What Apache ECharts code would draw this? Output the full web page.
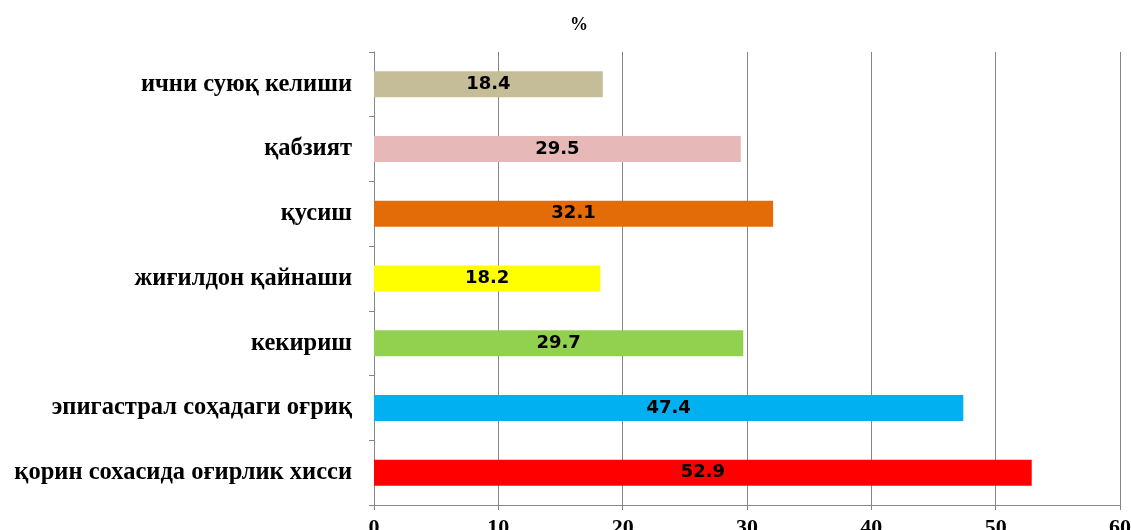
<!DOCTYPE html>
<html>
<head>
<meta charset="utf-8">
<script src="https://cdn.jsdelivr.net/npm/echarts@6/dist/echarts.min.js"></script>
<style>
html,body{margin:0;padding:0;background:#fff;}
#main{width:1131px;height:530px;}
</style>
</head>
<body>
<div id="main"></div>
<script>
// categories listed bottom -> top, as the category axis draws them
var categories = ['қорин сохасида оғирлик хисси', 'эпигастрал соҳадаги оғриқ', 'кекириш', 'жиғилдон қайнаши', 'қусиш', 'қабзият', 'ични суюқ келиши'];
var values = [52.9, 47.4, 29.7, 18.2, 32.1, 29.5, 18.4];
var barColors = ['#FF0000', '#00B0F0', '#92D050', '#FFFF00', '#E36C09', '#E6B9B8', '#C4BD97'];

var dataList = [];
for (var i in values) {
	dataList.push({value: values[i], itemStyle: {color: barColors[i]}});
}

var myChart = echarts.init(document.getElementById('main'));
var option = {
	animation: false,
	title: {
		text: '%',
		left: 574,
		top: 11,
		textAlign: 'center',
		textStyle: {fontFamily: 'Liberation Serif', fontWeight: 'bold', fontSize: 18, color: '#000'}
	},
	grid: {left: 374, right: 11, top: 52, bottom: 25, containLabel: false, outerBoundsMode: 'none'},
	xAxis: {
		type: 'value',
		min: 0,
		max: 60,
		interval: 10,
		axisLine: {show: true, lineStyle: {color: '#868686', width: 1}},
		axisTick: {show: true, length: 5, lineStyle: {color: '#868686'}},
		splitLine: {show: true, lineStyle: {color: '#868686', width: 1}},
		axisLabel: {margin: 12, fontFamily: 'Liberation Serif', fontWeight: 'bold', fontSize: 22, color: '#000'}
	},
	yAxis: {
		type: 'category',
		data: categories,
		axisLine: {show: true, lineStyle: {color: '#868686', width: 1}},
		axisTick: {show: true, length: 5, lineStyle: {color: '#868686'}},
		axisLabel: {margin: 22, fontFamily: 'Liberation Serif', fontWeight: 'bold', fontSize: 24.5, color: '#000'}
	},
	series: [{
		type: 'bar',
		data: dataList,
		barWidth: 26,
		label: {
			show: true,
			position: 'inside',
			fontFamily: 'DejaVu Sans',
			fontWeight: 'bold',
			fontSize: 18,
			color: '#000'
		}
	}]
};
myChart.setOption(option);
</script>
</body>
</html>
